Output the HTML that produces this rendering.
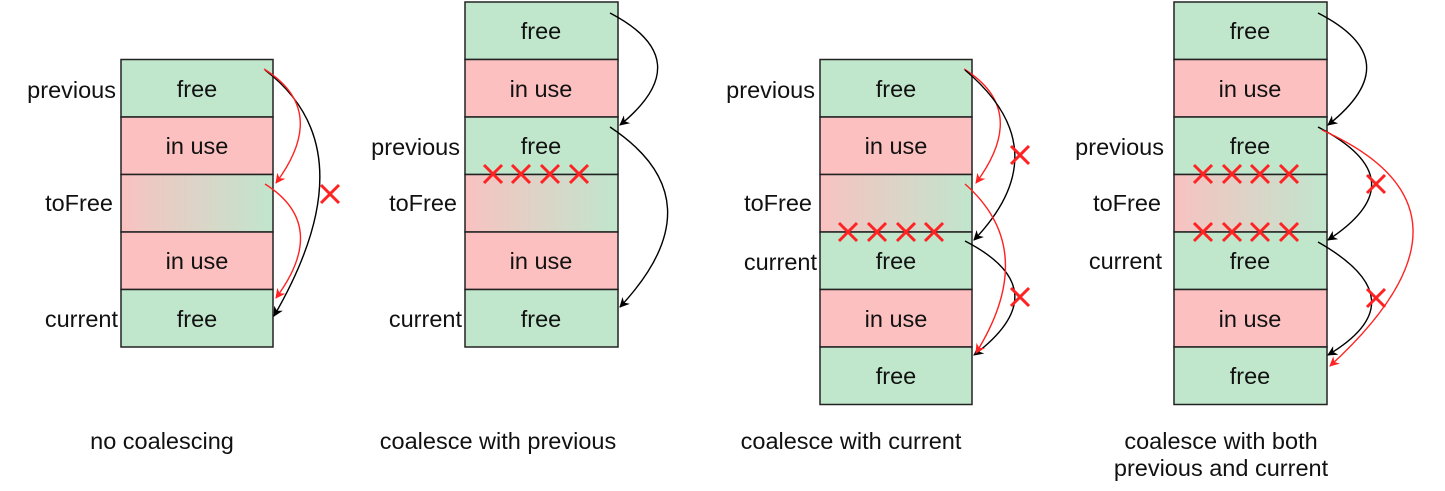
<!DOCTYPE html>
<html><head><style>body{margin:0;background:#fff}svg{display:block}</style></head><body>
<svg width="1445" height="491" viewBox="0 0 1445 491" xmlns="http://www.w3.org/2000/svg" font-family="Liberation Sans, sans-serif" font-size="23.5">
<defs>
<linearGradient id="g" x1="0" x2="1" y1="0" y2="0">
<stop offset="0" stop-color="#fcc0c0"/><stop offset="0.1" stop-color="#f2c6c2"/><stop offset="0.9" stop-color="#c6e2cc"/><stop offset="1" stop-color="#c0e6cc"/></linearGradient>
<marker id="ab" markerWidth="10" markerHeight="10" refX="9" refY="5" orient="auto" markerUnits="userSpaceOnUse"><path d="M0,0 L10,5 L0,10 L3,5z" fill="#000"/></marker>
<marker id="ar" markerWidth="10" markerHeight="10" refX="9" refY="5" orient="auto" markerUnits="userSpaceOnUse"><path d="M0,0 L10,5 L0,10 L3,5z" fill="#f22"/></marker>
<g id="x"><path d="M-9,-9L9,9M9,-9L-9,9" stroke="#f22" stroke-width="3"/></g>
</defs>
<g stroke="#222" stroke-width="1.5">
<rect x="121" y="59.5" width="152" height="57.5" fill="#c0e6cc"/>
<rect x="121" y="117" width="152" height="57.5" fill="#fcc0c0"/>
<rect x="121" y="174.5" width="152" height="57.5" fill="url(#g)"/>
<rect x="121" y="232" width="152" height="57.5" fill="#fcc0c0"/>
<rect x="121" y="289.5" width="152" height="57.5" fill="#c0e6cc"/>
<rect x="465" y="2" width="153" height="57.5" fill="#c0e6cc"/>
<rect x="465" y="59.5" width="153" height="57.5" fill="#fcc0c0"/>
<rect x="465" y="117" width="153" height="57.5" fill="#c0e6cc"/>
<rect x="465" y="174.5" width="153" height="57.5" fill="url(#g)"/>
<rect x="465" y="232" width="153" height="57.5" fill="#fcc0c0"/>
<rect x="465" y="289.5" width="153" height="57.5" fill="#c0e6cc"/>
<rect x="820" y="59.5" width="152" height="57.5" fill="#c0e6cc"/>
<rect x="820" y="117" width="152" height="57.5" fill="#fcc0c0"/>
<rect x="820" y="174.5" width="152" height="57.5" fill="url(#g)"/>
<rect x="820" y="232" width="152" height="57.5" fill="#c0e6cc"/>
<rect x="820" y="289.5" width="152" height="57.5" fill="#fcc0c0"/>
<rect x="820" y="347" width="152" height="57.5" fill="#c0e6cc"/>
<rect x="1174" y="2" width="153" height="57.5" fill="#c0e6cc"/>
<rect x="1174" y="59.5" width="153" height="57.5" fill="#fcc0c0"/>
<rect x="1174" y="117" width="153" height="57.5" fill="#c0e6cc"/>
<rect x="1174" y="174.5" width="153" height="57.5" fill="url(#g)"/>
<rect x="1174" y="232" width="153" height="57.5" fill="#c0e6cc"/>
<rect x="1174" y="289.5" width="153" height="57.5" fill="#fcc0c0"/>
<rect x="1174" y="347" width="153" height="57.5" fill="#c0e6cc"/>
</g>
<g text-anchor="middle" fill="#111">
<text x="197" y="97">free</text><text x="197" y="154">in use</text><text x="197" y="269">in use</text><text x="197" y="327">free</text>
<text x="541" y="39">free</text><text x="541" y="97">in use</text><text x="541" y="154">free</text><text x="541" y="269">in use</text><text x="541" y="327">free</text>
<text x="896" y="97">free</text><text x="896" y="154">in use</text><text x="896" y="269">free</text><text x="896" y="327">in use</text><text x="896" y="384">free</text>
<text x="1250" y="39">free</text><text x="1250" y="97">in use</text><text x="1250" y="154">free</text><text x="1250" y="269">free</text><text x="1250" y="327">in use</text><text x="1250" y="384">free</text>
<text x="162" y="449">no coalescing</text>
<text x="498" y="449">coalesce with previous</text>
<text x="851" y="449">coalesce with current</text>
<text x="1221" y="449">coalesce with both</text>
<text x="1221" y="476">previous and current</text>
</g>
<g text-anchor="end" fill="#111">
<text x="116" y="98">previous</text><text x="113" y="211">toFree</text><text x="118" y="327">current</text>
<text x="460" y="155">previous</text><text x="457" y="211">toFree</text><text x="462" y="327">current</text>
<text x="815" y="98">previous</text><text x="812" y="211">toFree</text><text x="817" y="270">current</text>
<text x="1164" y="155">previous</text><text x="1161" y="211">toFree</text><text x="1162" y="269">current</text>
</g>
<g fill="none" stroke-width="1.4">
<path d="M265,70 Q370,150 274,316" stroke="#000" marker-end="url(#ab)"/>
<path d="M264,69 Q330,110 276,183" stroke="#f22" marker-end="url(#ar)"/>
<path d="M265,184 Q330,225 276,298" stroke="#f22" marker-end="url(#ar)"/>
<path d="M610,13 Q700,60 620,125" stroke="#000" marker-end="url(#ab)"/>
<path d="M610,127 Q720,200 620,307" stroke="#000" marker-end="url(#ab)"/>
<path d="M964,69 Q1030,110 976,183" stroke="#f22" marker-end="url(#ar)"/>
<path d="M965,70 Q1060,150 974,240" stroke="#000" marker-end="url(#ab)"/>
<path d="M965,241 Q1060,290 974,355" stroke="#000" marker-end="url(#ab)"/>
<path d="M965,184 Q1040,250 976,353" stroke="#f22" marker-end="url(#ar)"/>
<path d="M1318,13 Q1410,60 1328,125" stroke="#000" marker-end="url(#ab)"/>
<path d="M1318,127 Q1420,180 1328,240" stroke="#000" marker-end="url(#ab)"/>
<path d="M1318,242 Q1420,300 1328,355" stroke="#000" marker-end="url(#ab)"/>
<path d="M1322,130 Q1500,210 1330,366" stroke="#f22" marker-end="url(#ar)"/>
</g>
<use href="#x" x="330" y="194"/>
<use href="#x" x="493" y="174"/><use href="#x" x="521" y="174"/><use href="#x" x="550" y="174"/><use href="#x" x="579" y="174"/>
<use href="#x" x="1020" y="155"/><use href="#x" x="1020" y="297"/>
<use href="#x" x="848" y="232"/><use href="#x" x="877" y="232"/><use href="#x" x="906" y="232"/><use href="#x" x="934" y="232"/>
<use href="#x" x="1376" y="184"/><use href="#x" x="1376" y="298"/>
<use href="#x" x="1203" y="174"/><use href="#x" x="1232" y="174"/><use href="#x" x="1260" y="174"/><use href="#x" x="1289" y="174"/>
<use href="#x" x="1203" y="232"/><use href="#x" x="1232" y="232"/><use href="#x" x="1260" y="232"/><use href="#x" x="1289" y="232"/>
</svg>
</body></html>
